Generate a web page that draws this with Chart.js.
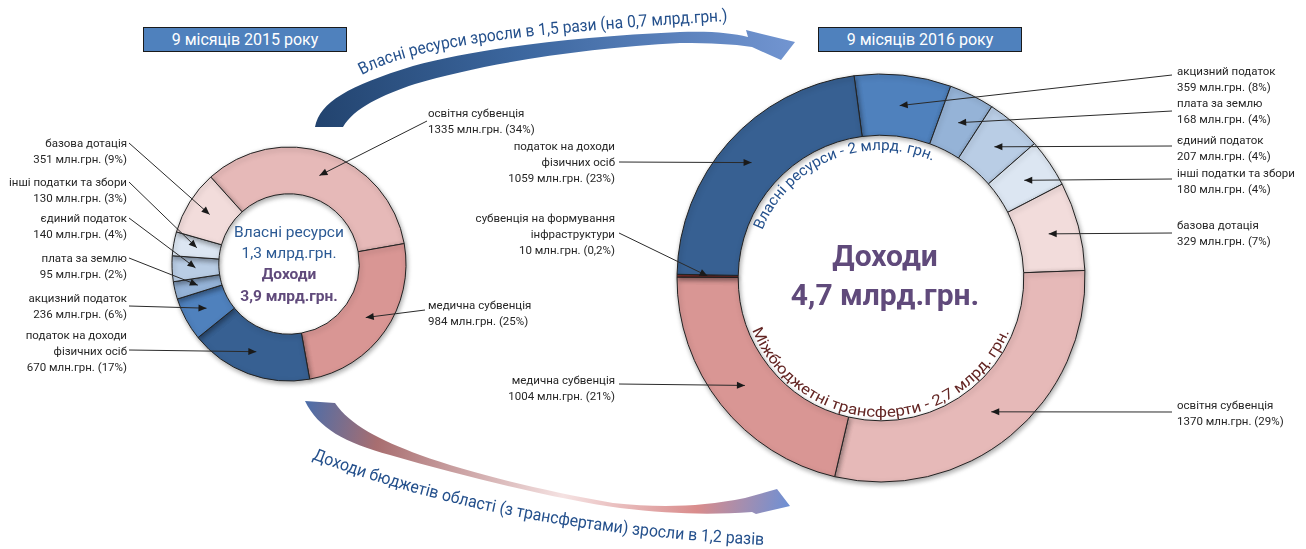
<!DOCTYPE html>
<html><head><meta charset="utf-8">
<script src="https://cdn.jsdelivr.net/npm/chart.js@4.4.0/dist/chart.umd.min.js"></script>
<style>
html,body{margin:0;padding:0;background:#fff;}
#wrap{position:relative;width:1306px;height:549px;overflow:hidden;font-family:Roboto,"Noto Sans",sans-serif;}
canvas{position:absolute;left:0;top:0;}
svg{position:absolute;left:0;top:0;pointer-events:none;}
.lbl{position:absolute;font-size:11.5px;line-height:16px;color:#262626;white-space:nowrap;}
.hdr{position:absolute;width:204px;height:25px;background:#4F81BD;border:1px solid #1a1a1a;color:#fff;font-size:16px;line-height:23px;text-align:center;box-sizing:border-box;}
.ctr{position:absolute;white-space:nowrap;text-align:center;transform:translate(-50%,-50%);}
</style></head>
<body>
<div id="wrap">
  <canvas id="c2015" width="1306" height="549"></canvas>
  <canvas id="c2016" width="1306" height="549"></canvas>
  <svg id="ov" width="1306" height="549"></svg>
</div>
<script>
// ---------- DATA ----------
const cats2015 = ['освітня субвенція','медична субвенція','податок на доходи\nфізичних осіб','акцизний податок','плата за землю','єдиний податок','інші податки та збори','базова дотація'];
const vals2015 = [1335, 984, 670, 236, 95, 140, 130, 351];
const pct2015  = ['34%','25%','17%','6%','2%','4%','3%','9%'];

const cats2016 = ['акцизний податок','плата за землю','єдиний податок','інші податки та збори','базова дотація','освітня субвенція','медична субвенція','субвенція на формування\nінфраструктури','податок на доходи\nфізичних осіб'];
const vals2016 = [359, 168, 207, 180, 329, 1370, 1004, 10, 1059];
const pct2016  = ['8%','4%','4%','4%','7%','29%','21%','0,2%','23%'];

const headers = ['9 місяців 2015 року','9 місяців 2016 року'];
const centre2015 = ['Власні ресурси','1,3 млрд.грн.','Доходи','3,9 млрд.грн.'];
const centre2016 = ['Доходи','4,7 млрд.грн.'];
const ringText2016 = ['Власні ресурси - 2 млрд. грн.','Міжбюджетні трансферти - 2,7 млрд. грн.'];
const arrowTexts = ['Власні ресурси зросли в 1,5 рази (на 0,7 млрд.грн.)','Доходи бюджетів області (з трансфертами) зросли в 1,2 разів'];
const unit = 'млн.грн.';

// ---------- STYLE / LAYOUT ----------
const colMap = {
  'освітня субвенція':'#E6B9B8','медична субвенція':'#D99694','податок на доходи\nфізичних осіб':'#376092',
  'акцизний податок':'#4F81BD','плата за землю':'#95B3D7','єдиний податок':'#B9CDE5',
  'інші податки та збори':'#DCE6F2','базова дотація':'#F2DCDB','субвенція на формування\nінфраструктури':'#953735'
};
const lay2015 = [
  {x:428,top:105,al:'l',sx:427,sy:121},
  {x:428,top:297,al:'l',sx:425,sy:310},
  {x:127,top:327,al:'r',sx:129,sy:350},
  {x:127,top:290,al:'r',sx:129,sy:306},
  {x:127,top:250,al:'r',sx:129,sy:258},
  {x:127,top:210,al:'r',sx:129,sy:218},
  {x:127,top:174,al:'r',sx:129,sy:182},
  {x:127,top:135,al:'r',sx:129,sy:143}
];
const lay2016 = [
  {x:1177,top:63,al:'l',sx:1172,sy:75},
  {x:1177,top:95,al:'l',sx:1172,sy:111},
  {x:1177,top:132,al:'l',sx:1172,sy:146},
  {x:1177,top:165,al:'l',sx:1172,sy:179},
  {x:1177,top:217,al:'l',sx:1172,sy:233},
  {x:1177,top:397,al:'l',sx:1172,sy:412},
  {x:615,top:372,al:'r',sx:619,sy:384},
  {x:615,top:210,al:'r',sx:619,sy:233},
  {x:615,top:138,al:'r',sx:619,sy:162}
];
const W = 1306, H = 549;
const C1 = {x:289, y:264, r:117}, C2 = {x:881, y:278, r:204};

function leader(layout){
  return {
    id:'leaders',
    afterDatasetsDraw(chart){
      const ctx = chart.ctx, meta = chart.getDatasetMeta(0);
      layout.forEach((L,i)=>{
        const p = meta.data[i].tooltipPosition(true);
        ctx.save();
        ctx.strokeStyle = '#2a2a2a'; ctx.lineWidth = 1;
        ctx.beginPath(); ctx.moveTo(L.sx, L.sy); ctx.lineTo(p.x, p.y); ctx.stroke();
        const a = Math.atan2(p.y - L.sy, p.x - L.sx), len = 8, w = 3.5;
        ctx.beginPath(); ctx.moveTo(p.x, p.y);
        ctx.lineTo(p.x - len*Math.cos(a) + w*Math.sin(a), p.y - len*Math.sin(a) - w*Math.cos(a));
        ctx.lineTo(p.x - len*Math.cos(a) - w*Math.sin(a), p.y - len*Math.sin(a) + w*Math.cos(a));
        ctx.closePath(); ctx.fillStyle = '#1a1a1a'; ctx.fill();
        ctx.restore();
      });
    }
  };
}
const shadow = {
  id:'shadow',
  beforeDatasetsDraw(chart){ const c = chart.ctx; c.save(); c.shadowColor='rgba(0,0,0,0.35)'; c.shadowBlur=5; c.shadowOffsetX=1; c.shadowOffsetY=2; },
  afterDatasetsDraw(chart){ chart.ctx.restore(); }
};

function makeChart(id, cats, vals, centre, radius, cutout, rotation, layout){
  const padL = Math.max(0, 2*centre.x - W), padR = Math.max(0, W - 2*centre.x);
  const padT = Math.max(0, 2*centre.y - H), padB = Math.max(0, H - 2*centre.y);
  return new Chart(document.getElementById(id), {
    type:'doughnut',
    data:{ labels:cats, datasets:[{ data:vals, backgroundColor:cats.map(c=>colMap[c]), borderColor:'#222', borderWidth:1 }]},
    options:{
      responsive:false, animation:false, events:[],
      radius:radius, cutout:cutout, rotation:rotation,
      layout:{padding:{left:padL,right:padR,top:padT,bottom:padB}},
      plugins:{legend:{display:false}, tooltip:{enabled:false}, title:{display:false}}
    },
    plugins:[shadow, leader(layout)]
  });
}
makeChart('c2015', cats2015, vals2015, C1, C1.r, '60%', -42, lay2015);
makeChart('c2016', cats2016, vals2016, C2, C2.r, '70%', -7.6, lay2016);

// ---------- HTML labels ----------
const wrap = document.getElementById('wrap');
function addLabels(cats, vals, pcts, layout){
  cats.forEach((c,i)=>{
    const L = layout[i], d = document.createElement('div');
    d.className = 'lbl';
    d.style.top = L.top + 'px';
    if (L.al === 'r'){ d.style.right = (W - L.x) + 'px'; d.style.textAlign = 'right'; }
    else { d.style.left = L.x + 'px'; d.style.textAlign = 'left'; }
    const lines = c.split('\n').concat([vals[i] + ' ' + unit + ' (' + pcts[i] + ')']);
    d.innerHTML = lines.join('<br>');
    wrap.appendChild(d);
  });
}
addLabels(cats2015, vals2015, pct2015, lay2015);
addLabels(cats2016, vals2016, pct2016, lay2016);

[[143,headers[0]],[818,headers[1]]].forEach(([x,t])=>{
  const d = document.createElement('div'); d.className='hdr';
  d.style.left = x+'px'; d.style.top = '27px'; d.textContent = t; wrap.appendChild(d);
});
function ctr(t, x, y, size, color, bold){
  const d = document.createElement('div'); d.className='ctr';
  d.style.left = x+'px'; d.style.top = y+'px'; d.style.fontSize = size+'px';
  d.style.color = color; d.style.fontWeight = bold ? '700' : '400';
  d.textContent = t; wrap.appendChild(d);
}
ctr(centre2015[0], 289, 232, 15.5, '#2C5A94', false);
ctr(centre2015[1], 289, 253, 15.5, '#2C5A94', false);
ctr(centre2015[2], 289, 274, 15.5, '#604A7B', true);
ctr(centre2015[3], 289, 296, 15.5, '#604A7B', true);
ctr(centre2016[0], 885, 255, 30, '#604A7B', true);
ctr(centre2016[1], 885, 294, 30, '#604A7B', true);

// ---------- SVG decorations ----------
const NS = 'http://www.w3.org/2000/svg';
const svg = document.getElementById('ov');
function el(tag, attrs, parent){ const e = document.createElementNS(NS, tag); for (const k in attrs) e.setAttribute(k, attrs[k]); (parent||svg).appendChild(e); return e; }
const defs = el('defs', {});
const g1 = el('linearGradient', {id:'gTop', gradientUnits:'userSpaceOnUse', x1:315, y1:127, x2:790, y2:45}, defs);
[['0','#22436E'],['0.45','#3C679F'],['1','#7194D0']].forEach(([o,c])=>el('stop',{offset:o,'stop-color':c},g1));
const g2 = el('linearGradient', {id:'gBot', gradientUnits:'userSpaceOnUse', x1:305, y1:400, x2:790, y2:500}, defs);
[['0','#4A6DAA'],['0.16','#A86E70'],['0.55','#F5E2E2'],['0.82','#D98C8C'],['1','#6E90D4']].forEach(([o,c])=>el('stop',{offset:o,'stop-color':c},g2));

// top curved arrow
el('path', {d:'M315,127 C320,102 348,86 413,66 C475,49 570,37 680,32 C712,31 732,33 748,37 L746,30 L795,42 L781,60 L752,47 C732,44 712,43 680,43 C585,48 485,63 415,84 C382,95 354,108 343,127 Z', fill:'url(#gTop)'});
// bottom curved arrow
el('path', {d:'M305,401 C318,428 345,443 390,455 C470,478 560,500 620,508 C670,514 710,515 752,512 L756,514 L790,506 L777,489 L745,498 C700,507 660,508 613,503 C540,490 470,473 420,455 C380,440 350,425 335,403 Z', fill:'url(#gBot)'});

// curved texts
function tpath(id, d){ el('path', {id:id, d:d, fill:'none'}, defs); }
tpath('pTop', 'M362,75 C415,46 520,33 742,20');
tpath('pBot', 'M312,459 C420,500 560,535 765,545 L830,547');
function ctext(pid, txt, size, color, len){
  const t = el('text', {'font-size':size, fill:color, 'font-family':'Roboto, "Noto Sans", sans-serif', textLength:len, lengthAdjust:'spacingAndGlyphs'});
  const tp = el('textPath', {href:'#'+pid}, t); tp.textContent = txt;
}
ctext('pTop', arrowTexts[0], 17, '#24508C', 372);
ctext('pBot', arrowTexts[1], 17, '#24508C', 462);

function arcPath(c, r, a0, a1, sweep){
  const p = a => [c.x + r*Math.sin(a*Math.PI/180), c.y - r*Math.cos(a*Math.PI/180)];
  const [x0,y0] = p(a0), [x1,y1] = p(a1);
  const large = Math.abs(a1-a0) > 180 ? 1 : 0;
  return `M${x0.toFixed(1)},${y0.toFixed(1)} A${r},${r} 0 ${large} ${sweep} ${x1.toFixed(1)},${y1.toFixed(1)}`;
}
tpath('pIn1', arcPath(C2, 128, -68, 40, 1));
tpath('pIn2', arcPath(C2, 139, 248, 100, 0));
ctext('pIn1', ringText2016[0], 15, '#24508C', 205);
ctext('pIn2', ringText2016[1], 15, '#632523', 328);
</script>
</body></html>
